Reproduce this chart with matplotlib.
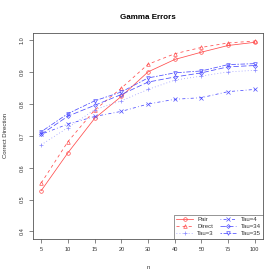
import matplotlib
matplotlib.use('Agg')
import matplotlib.pyplot as plt

plt.rcParams['font.family'] = ['Liberation Sans', 'DejaVu Sans']

n_labels = ['5', '10', '15', '20', '30', '40', '50', '75', '100']

pair = [0.528, 0.647, 0.755, 0.824, 0.901, 0.940, 0.963, 0.984, 0.994]
direct = [0.552, 0.682, 0.781, 0.850, 0.925, 0.958, 0.978, 0.992, 0.998]
tau3 = [0.672, 0.726, 0.782, 0.810, 0.846, 0.875, 0.888, 0.901, 0.906]
tau4 = [0.705, 0.737, 0.761, 0.777, 0.800, 0.815, 0.820, 0.839, 0.846]
tau34 = [0.705, 0.762, 0.796, 0.830, 0.869, 0.885, 0.898, 0.917, 0.921]
tau35 = [0.713, 0.770, 0.810, 0.838, 0.882, 0.898, 0.904, 0.924, 0.927]

series = [
    ('Pair', pair, '#ff4d4d', 'o', None),
    ('Direct', direct, '#ff4d4d', '^', (4, 4)),
    ('Tau=3', tau3, '#8a8aff', '+', (1, 3)),
    ('Tau=4', tau4, '#4d4dff', 'x', (1, 3, 4, 3)),
    ('Tau=34', tau34, '#4d4dff', 'D', (7, 3)),
    ('Tau=35', tau35, '#4d4dff', 'v', (2, 2, 6, 2)),
]

fig = plt.figure(figsize=(2.8, 2.8), dpi=100)
ax = fig.add_axes([0.1168, 0.1464, 0.8236, 0.7366])

x = list(range(1, len(n_labels) + 1))
for name, vals, col, mk, dash in series:
    ms = 2.0 if mk == 'D' else 2.6
    line, = ax.plot(x, vals, color=col, linewidth=0.55, marker=mk, markersize=ms,
                    markerfacecolor='none', markeredgecolor=col, markeredgewidth=0.5,
                    label=name)
    if dash is not None:
        line.set_dashes(dash)

ax.set_xlim(0.68, 9.32)
ax.set_ylim(0.376, 1.024)
ax.set_xticks(x)
ax.set_xticklabels(n_labels)
ax.set_yticks([0.4, 0.5, 0.6, 0.7, 0.8, 0.9, 1.0])
ax.set_yticklabels(['0.4', '0.5', '0.6', '0.7', '0.8', '0.9', '1.0'], rotation=90, va='center')
ax.tick_params(labelsize=4.0, length=3, width=0.5, color='#555555', labelcolor='#333333', pad=3)

for s in ax.spines.values():
    s.set_linewidth(0.6)
    s.set_color('#555555')

ax.set_title('Gamma Errors', fontsize=5.8, fontweight='bold', pad=10)
ax.set_xlabel('n', fontsize=4.3, labelpad=9, color='#333333')
ax.set_ylabel('Correct Direction', fontsize=4.3, labelpad=8, color='#333333')

leg = ax.legend(ncol=2, loc='lower right', fontsize=4.3, frameon=True, fancybox=False,
                edgecolor='#444444', borderaxespad=0, handlelength=2.8, columnspacing=1.0,
                handletextpad=0.7, labelspacing=0.3, borderpad=0.45)
leg.get_frame().set_linewidth(0.5)
for t in leg.get_texts():
    t.set_color('#333333')

fig.savefig('out.png', dpi=100)
